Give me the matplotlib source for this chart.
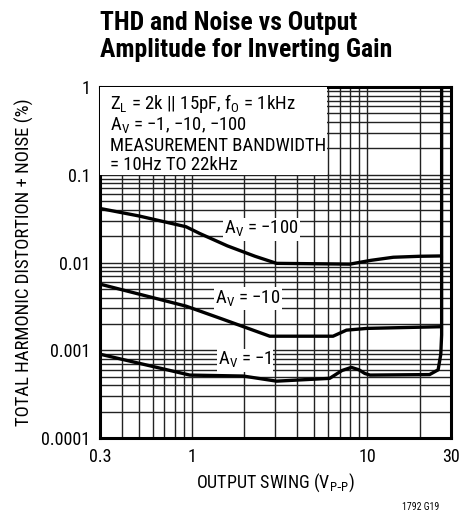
import matplotlib
matplotlib.use("Agg")
import matplotlib.pyplot as plt
from matplotlib.patches import Rectangle

plt.rcParams['font.family'] = ['Roboto Condensed', 'DejaVu Sans']

# THD + noise (%) vs output swing (Vp-p)
x_100 = [0.3, 0.5, 0.93, 1.11, 1.6, 2.3, 3.05, 5.0, 7.97, 10.5, 14.1, 20.0, 26.5]
y_100 = [0.0414, 0.034, 0.0256, 0.0215, 0.0155, 0.0118, 0.0098, 0.0097, 0.0096, 0.0106, 0.0115, 0.0118, 0.0119]

x_10 = [0.3, 0.93, 1.5, 2.79, 6.4, 7.63, 10.0, 26.5]
y_10 = [0.00569, 0.00319, 0.00227, 0.00145, 0.00145, 0.0017, 0.00178, 0.00186]

x_1 = [0.3, 0.977, 1.97, 3.05, 6.12, 7.2, 8.14, 9.0, 9.7, 10.4, 22.7, 25.4, 26.3, 26.6, 26.6]
y_1 = [0.000906, 0.000523, 0.00051, 0.000446, 0.00048, 0.00059, 0.00064, 0.0006, 0.000546, 0.000523,
       0.00053, 0.0006, 0.0009, 0.0015, 1.5]

curve_labels = ["A$_\\mathregular{V}$ = −100", "A$_\\mathregular{V}$ = −10", "A$_\\mathregular{V}$ = −1"]
label_x = [2.5, 2.09, 2.01]
label_y = [0.024, 0.0039, 0.00077]

xticks = [0.3, 1, 10, 30]
xtick_labels = ["0.3", "1", "10", "30"]
yticks = [0.0001, 0.001, 0.01, 0.1, 1]
ytick_labels = ["0.0001", "0.001", "0.01", "0.1", "1"]

fig = plt.figure(figsize=(4.6, 5.21), dpi=100)
ax = fig.add_axes([0.217, 0.159, 0.763, 0.674])
ax.set_xscale("log")
ax.set_yscale("log")
ax.set_xlim(0.3, 30)
ax.set_ylim(0.0001, 1)

ax.grid(True, which="both", color="#222222", lw=1.0)
for s in ax.spines.values():
    s.set_linewidth(2.2)

for xs, ys in [(x_100, y_100), (x_10, y_10), (x_1, y_1)]:
    ax.plot(xs, ys, color="black", lw=2.4, solid_joinstyle="round", zorder=4)

for t, lx, ly in zip(curve_labels, label_x, label_y):
    ax.text(lx, ly, t, fontsize=13.5, ha="center", va="center", zorder=5,
            bbox=dict(facecolor="white", edgecolor="none", pad=1))

# white area behind the test conditions
ax.add_patch(Rectangle((0.3, 0.1), 5.6, 0.9, facecolor="white", edgecolor="none", zorder=2.6))
cond = ("Z$_\\mathregular{L}$ = 2k || 15pF, f$_\\mathregular{O}$ = 1kHz\n"
        "A$_\\mathregular{V}$ = −1, −10, −100\n"
        "MEASUREMENT BANDWIDTH\n"
        "= 10Hz TO 22kHz")
ax.text(0.028, 0.985, cond, transform=ax.transAxes, fontsize=13.5, ha="left", va="top",
        linespacing=1.06, zorder=5)

ax.set_xticks(xticks)
ax.set_xticklabels(xtick_labels)
ax.set_yticks(yticks)
ax.set_yticklabels(ytick_labels)
ax.minorticks_on()
ax.tick_params(which="both", length=0, labelsize=13, pad=7)
ax.xaxis.set_minor_formatter(plt.NullFormatter())
ax.yaxis.set_minor_formatter(plt.NullFormatter())

ax.set_xlabel("OUTPUT SWING (V$_\\mathregular{P\\text{-}P}$)", fontsize=13, labelpad=4)
ax.set_ylabel("TOTAL HARMONIC DISTORTION + NOISE (%)", fontsize=13.5, labelpad=5)

fig.text(0.217, 0.978, "THD and Noise vs Output\nAmplitude for Inverting Gain",
         fontsize=18.5, fontweight="bold", ha="left", va="top", linespacing=1.12)
fig.text(0.955, 0.027, "1792 G19", fontsize=7, ha="right", va="center")

fig.savefig("out.png", dpi=100)
